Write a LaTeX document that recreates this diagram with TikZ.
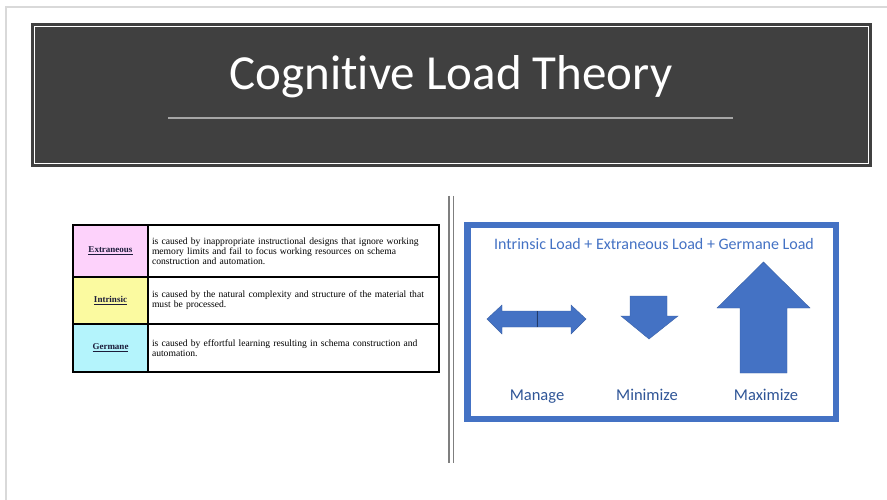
\documentclass[tikz,border=0pt]{standalone}
\usepackage{fontspec}
\setmainfont{Carlito}[RawFeature={-liga;-clig;-calt;-dlig}]
\newfontfamily\tabfont{Liberation Serif}
\usepackage{tikz}
\usetikzlibrary{positioning}
\definecolor{slate}{HTML}{404040}
\definecolor{rule}{HTML}{A6A6A6}
\definecolor{edge}{HTML}{D9D9D9}
\definecolor{bar}{HTML}{7F7F7F}
\definecolor{blue}{HTML}{4472C4}
\definecolor{bluedark}{HTML}{2F5597}
\definecolor{pinkpale}{HTML}{FDD2FB}
\definecolor{yellowpale}{HTML}{FBFAA0}
\definecolor{cyanpale}{HTML}{B4F4FC}
\definecolor{ink}{HTML}{1C1C3A}

\begin{document}
\begin{tikzpicture}[x=1pt,y=-1pt,
 keycell/.style={draw=black,line width=1.6pt,outer sep=0pt,inner sep=0pt,minimum width=75pt,
  font=\tabfont\fontsize{9}{10}\selectfont\bfseries,text=ink},
 desc/.style={draw=black,line width=1.6pt,outer sep=0pt,inner xsep=4pt,minimum width=291pt,
  text width=283pt,align=left,font=\tabfont\fontsize{9.6}{10}\selectfont},
 arrowfill/.style={fill=blue,draw=blue!85!black,line width=0.4pt},
 word/.style={font=\fontsize{16.5}{18}\selectfont,text=bluedark,anchor=base}]
 \useasboundingbox (0,0) rectangle (887,500);
 \fill[white] (0,0) rectangle (887,500);
 \draw[edge,line width=1.5pt] (887,7) -- (6,7) -- (6,500);
 % title banner
 \fill[slate] (31,23) rectangle (872,167);
 \draw[white,line width=0.9pt] (34.5,26.5) rectangle (868.5,163.5);
 \node[text=white,font=\fontsize{49}{56}\selectfont,anchor=base] (title) at (451,90) {Cognitive Load Theory};
 \draw[rule,line width=2pt] (168,118) -- (733,118);
 % divider
 \draw[bar,line width=1.6pt] (449,196) -- (449,463);
 \draw[bar,line width=1.6pt] (453.5,196) -- (453.5,463);
 % table
 \node[keycell,fill=pinkpale,minimum height=52pt] (ext) at (110.5,251) {\underline{Extraneous}};
 \node[keycell,fill=yellowpale,minimum height=47pt,below=0pt of ext] (intr) {\underline{Intrinsic}};
 \node[keycell,fill=cyanpale,minimum height=48pt,below=0pt of intr] (germ) {\underline{Germane}};
 \node[desc,minimum height=52pt,right=0pt of ext] (extd) {is caused by inappropriate instructional designs that ignore working\\memory limits and fail to focus working resources on schema\\construction and automation.};
 \node[desc,minimum height=47pt,right=0pt of intr] (intrd) {is caused by the natural complexity and structure of the material that\\must be processed.};
 \node[desc,minimum height=48pt,right=0pt of germ] (germd) {is caused by effortful learning resulting in schema construction and\\automation.};
 % load panel
 \draw[blue,line width=6.5pt] (467.25,225.25) rectangle (835.75,418.75);
 \node[text=blue,font=\fontsize{16}{18}\selectfont,anchor=base] (sum) at (654,250) {Intrinsic Load + Extraneous Load + Germane Load};
 \fill[arrowfill] (537,311) -- (502,311) -- (502,305) -- (487,319) -- (502,334) -- (502,327) -- (537,327) -- cycle;
 \fill[arrowfill] (537,311) -- (571,311) -- (571,305) -- (586,319) -- (571,334) -- (571,327) -- (537,327) -- cycle;
 \draw[bluedark!70!black,line width=0.6pt] (537,311) -- (537,327);
 \fill[arrowfill] (630,296) -- (667,296) -- (667,316) -- (678,316) -- (649,339) -- (621,316) -- (630,316) -- cycle;
 \fill[arrowfill] (740,373) -- (740,308) -- (717,308) -- (763.5,262) -- (810,308) -- (787,308) -- (787,373) -- cycle;
 \node[word] (manage) at (537,400) {Manage};
 \node[word] (mini) at (647,400) {Minimize};
 \node[word] (maxi) at (766,400) {Maximize};
\end{tikzpicture}
\end{document}
